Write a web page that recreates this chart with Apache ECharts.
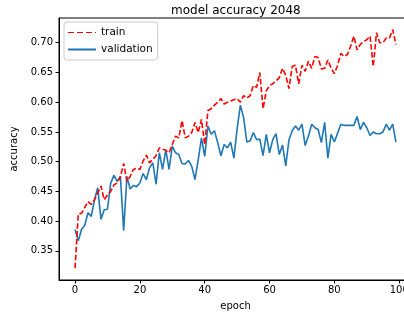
<!DOCTYPE html>
<html>
<head>
<meta charset="utf-8">
<script src="https://cdn.jsdelivr.net/npm/echarts@6/dist/echarts.min.js"></script>
<style>
html,body{margin:0;padding:0;background:#fff;}
#c{width:404px;height:318px;}
</style>
</head>
<body>
<div id="c"></div>
<script>
const titleText = "model accuracy 2048";
const xLabel = "epoch";
const yLabel = "accuracy";
const seriesNames = ["train", "validation"];
const xTicks = [0, 20, 40, 60, 80, 100];
const yTicks = [0.35, 0.40, 0.45, 0.50, 0.55, 0.60, 0.65, 0.70];

const train = [
0.321,0.412,0.413,0.423,0.433,0.428,0.436,0.447,0.459,0.436,
0.444,0.450,0.461,0.464,0.475,0.497,0.467,0.475,0.487,0.489,
0.487,0.501,0.511,0.498,0.504,0.510,0.523,0.521,0.519,0.515,
0.529,0.543,0.540,0.569,0.540,0.543,0.549,0.566,0.549,0.571,
0.529,0.586,0.589,0.595,0.600,0.606,0.597,0.600,0.602,0.604,
0.606,0.600,0.611,0.607,0.611,0.628,0.625,0.650,0.589,0.619,
0.628,0.631,0.636,0.641,0.657,0.645,0.623,0.660,0.662,0.631,
0.662,0.652,0.669,0.657,0.677,0.675,0.656,0.657,0.671,0.657,
0.648,0.662,0.682,0.677,0.680,0.694,0.711,0.688,0.697,0.702,
0.705,0.711,0.660,0.717,0.700,0.700,0.708,0.708,0.722,0.697
];
const validation = [
0.386,0.367,0.386,0.393,0.414,0.408,0.436,0.456,0.403,0.419,
0.420,0.464,0.477,0.467,0.475,0.384,0.475,0.454,0.460,0.458,
0.464,0.480,0.470,0.490,0.498,0.462,0.515,0.487,0.520,0.487,
0.526,0.515,0.512,0.497,0.496,0.502,0.492,0.470,0.503,0.540,
0.509,0.560,0.546,0.552,0.532,0.510,0.529,0.523,0.533,0.506,
0.555,0.595,0.574,0.533,0.535,0.549,0.537,0.538,0.510,0.546,
0.515,0.537,0.547,0.512,0.528,0.493,0.537,0.552,0.560,0.553,
0.563,0.527,0.543,0.563,0.557,0.554,0.532,0.566,0.506,0.546,
0.533,0.548,0.563,0.561,0.561,0.561,0.561,0.576,0.554,0.566,
0.557,0.544,0.550,0.547,0.547,0.550,0.563,0.553,0.563,0.533
];

const font = "DejaVu Sans";
const chart = echarts.init(document.getElementById('c'), null, {renderer:'canvas'});
const toPairs = arr => arr.map((v,i)=>[i,v]);

chart.setOption({
  animation:false,
  backgroundColor:'#fff',
  title:{
    text:titleText, left:166, top:0,
    textStyle:{fontFamily:font,fontSize:12,fontWeight:'normal',color:'#000'}
  },
  legend:{
    orient:'vertical', left:64, top:22,
    data:[
      {name:seriesNames[0], icon:'path://M0,0 L6,0 L6,1 L0,1 Z M9,0 L15,0 L15,1 L9,1 Z M18,0 L24,0 L24,1 L18,1 Z M27,0 L28,0 L28,1 L27,1 Z', itemStyle:{color:'#ff0000'}},
      {name:seriesNames[1]}
    ],
    itemWidth:28, itemHeight:2, itemGap:6,
    padding:[5,5,5,3],
    backgroundColor:'rgba(255,255,255,0.8)',
    borderColor:'#cccccc', borderWidth:1, borderRadius:3,
    textStyle:{fontFamily:font,fontSize:10.5,color:'#000'}
  },
  grid:{left:59, top:18, width:353, height:262, outerBoundsMode:'none', containLabel:false,
        show:true, borderColor:'#000', borderWidth:1, backgroundColor:'transparent'},
  xAxis:{
    type:'value', min:-4.95, max:103.95,
    name:xLabel, nameLocation:'middle', nameGap:21,
    nameTextStyle:{fontFamily:font,fontSize:10,color:'#000'},
    axisLine:{show:true,onZero:false,lineStyle:{color:'#000',width:1}},
    axisTick:{show:true,length:3.5,lineStyle:{color:'#000'},customValues:xTicks},
    axisLabel:{fontFamily:font,fontSize:10,color:'#000',margin:5,customValues:xTicks,showMinLabel:true,showMaxLabel:true,hideOverlap:false},
    splitLine:{show:false}
  },
  yAxis:{
    type:'value', min:0.301, max:0.7416,
    name:yLabel, nameLocation:'middle', nameGap:40, nameRotate:90,
    nameTextStyle:{fontFamily:font,fontSize:10,color:'#000'},
    axisLine:{show:true,onZero:false,lineStyle:{color:'#000',width:1}},
    axisTick:{show:true,length:3.5,lineStyle:{color:'#000'},customValues:yTicks},
    axisLabel:{fontFamily:font,fontSize:10,color:'#000',margin:6,customValues:yTicks,formatter:v=>v.toFixed(2)},
    splitLine:{show:false}
  },
  series:[
    {name:seriesNames[0], type:'line', data:toPairs(train), showSymbol:false, symbol:'none',
     lineStyle:{color:'#ff0000',width:1.6,type:[5.5,2.4]}, itemStyle:{color:'#ff0000'}, z:3},
    {name:seriesNames[1], type:'line', data:toPairs(validation), showSymbol:false, symbol:'none',
     lineStyle:{color:'#1f77b4',width:1.6}, itemStyle:{color:'#1f77b4'}, z:2}
  ]
});
</script>
</body>
</html>
